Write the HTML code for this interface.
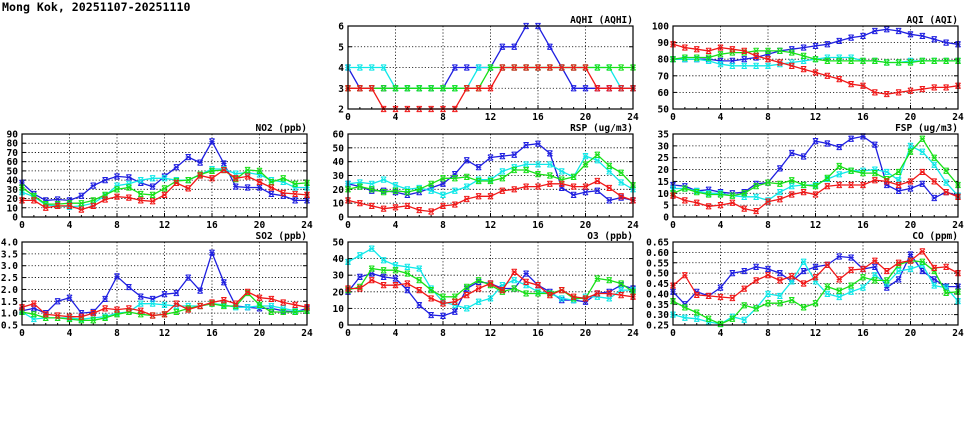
<!DOCTYPE html>
<html><head><meta charset="utf-8"><style>
body{margin:0;background:#fff;}
svg{display:block;font-family:"DejaVu Sans Mono","Liberation Mono",monospace;}
</style></head><body>
<svg id="s" width="975" height="447" viewBox="0 0 975 447" xmlns="http://www.w3.org/2000/svg">
<text x="2" y="11" font-size="11.6" font-weight="bold" fill="#000">Mong Kok, 20251107-20251110</text>
</svg>
<script>
const C={b:"#1f1fe0",c:"#10e8e8",g:"#18e018",r:"#f01818"};
const P=[
{t:"AQHI (AQHI)",x:348,y:26,min:2,max:6,st:1,dec:0,d:{
b:[4,3,3,3,3,3,3,3,3,4,4,4,4,5,5,6,6,5,4,3,3,3,3,3,3],
c:[4,4,4,4,3,3,3,3,3,3,3,4,4,4,4,4,4,4,4,4,4,4,4,3,3],
g:[3,3,3,3,3,3,3,3,3,3,3,3,4,4,4,4,4,4,4,4,4,4,4,4,4],
r:[3,3,3,2,2,2,2,2,2,2,3,3,3,4,4,4,4,4,4,4,4,3,3,3,3]}},
{t:"AQI (AQI)",x:673,y:26,min:50,max:100,st:10,dec:0,d:{
b:[80,80,80,80,79,79,80,81,83,85,86,87,88,89,91,93,94,97,98,97,95,94,92,90,89],
c:[80,80,80,79,77,76,76,76,76,77,78,79,80,81,81,81,79,79,78,78,79,79,79,79,79],
g:[80,81,81,81,83,84,84,85,85,85,84,82,80,79,79,79,79,79,78,78,78,79,79,79,79],
r:[89,87,86,85,87,86,85,82,80,78,76,74,72,70,68,65,64,60,59,60,61,62,63,63,64]}},
{t:"NO2 (ppb)",x:22,y:134,min:0,max:90,st:10,dec:0,d:{
b:[37,25,18,19,18,23,34,40,44,43,37,33,44,54,65,59,82,58,33,32,32,25,23,18,18],
c:[27,22,13,12,11,12,15,23,34,36,40,42,42,40,40,46,52,52,47,48,46,40,38,32,32],
g:[32,23,14,14,15,15,18,24,30,32,25,24,31,39,40,46,50,51,41,51,50,38,42,36,37],
r:[18,18,10,12,12,8,12,19,22,21,18,17,24,37,31,45,42,51,42,44,38,32,26,25,24]}},
{t:"RSP (ug/m3)",x:348,y:134,min:0,max:60,st:10,dec:0,d:{
b:[24,22,19,19,18,16,18,21,24,31,41,36,43,44,45,52,53,46,21,16,18,19,12,14,12],
c:[24,25,24,27,23,20,21,19,16,19,22,27,27,33,36,38,38,38,33,29,44,41,33,25,20],
g:[20,22,20,18,19,18,20,24,28,28,29,26,26,28,34,34,31,30,27,29,38,45,37,32,23],
r:[12,10,8,6,7,8,5,4,8,9,13,15,15,19,20,22,22,24,24,22,22,26,21,15,12]}},
{t:"FSP (ug/m3)",x:673,y:134,min:0,max:35,st:5,dec:0,d:{
b:[13.5,13,11,11.5,10.5,10,10.5,14,14.5,20.5,27,25.5,32,31,29.5,33,34,30.5,13.5,11,12,14,8,10.5,9],
c:[12,12,11,10,10,9,8.5,8.5,7,10.5,13,13.5,13.5,16,18,19.5,19.5,20,19,15.5,30,27.5,22,14.5,9],
g:[10,12,10.5,9.5,9.5,9,10,13,14.5,14,15.5,13.5,13,16.5,21.5,19.5,18.5,18.5,16,19,27.5,33,25,19.5,13.5],
r:[9,7,6,4.5,5,6,3.5,2.5,6.5,7.5,9.5,10.5,9.5,13,13.5,13.5,13.5,15.5,15,13.5,15,19,15,10.5,8.5]}},
{t:"SO2 (ppb)",x:22,y:242,min:0.5,max:4.0,st:0.5,dec:1,d:{
b:[1.1,1.2,1.0,1.5,1.65,1.0,1.05,1.6,2.55,2.1,1.7,1.6,1.8,1.85,2.5,1.95,3.55,2.3,1.3,1.25,1.2,1.2,1.1,1.05,1.2],
c:[1.05,0.75,0.8,0.8,0.8,0.75,0.8,0.85,1.0,1.05,1.4,1.4,1.35,1.3,1.3,1.3,1.4,1.35,1.25,1.25,1.3,1.3,1.2,1.1,1.1],
g:[1.05,0.95,0.8,0.8,0.75,0.7,0.7,0.8,0.95,1.05,0.95,0.9,0.95,1.05,1.2,1.3,1.4,1.3,1.3,1.85,1.35,1.05,1.05,1.05,1.1],
r:[1.25,1.4,0.95,0.9,0.85,0.85,1.0,1.2,1.15,1.2,1.1,0.9,0.95,1.4,1.15,1.3,1.45,1.55,1.4,1.9,1.65,1.6,1.45,1.35,1.25]}},
{t:"O3 (ppb)",x:348,y:242,min:0,max:50,st:10,dec:0,d:{
b:[20,29,31,29,28,21,12,6,5.5,8,22,26,25,22,22,31,24,20,15,15,14,19,20,24,22],
c:[38,42,46,39,36,35,34,22,14,12,10,14,16,24,27,24,20,19,16,15,17,17,16,21,21],
g:[21,23,34,33,33,31,27,21,17,17,23,27,24,20,22,19,19,19,21,16,16,28,27,25,20],
r:[22,22,27,24,24,25,21,16,13,14,18,22,25,21,32,26,24,18,21,17,16,19,19,18,17]}},
{t:"CO (ppm)",x:673,y:242,min:0.25,max:0.65,st:0.05,dec:2,d:{
b:[0.41,0.35,0.41,0.39,0.43,0.50,0.51,0.53,0.52,0.50,0.46,0.51,0.53,0.54,0.58,0.575,0.52,0.53,0.43,0.47,0.59,0.51,0.47,0.435,0.435],
c:[0.30,0.285,0.28,0.265,0.255,0.29,0.275,0.33,0.40,0.39,0.46,0.555,0.46,0.40,0.385,0.41,0.43,0.49,0.45,0.51,0.52,0.54,0.44,0.43,0.365],
g:[0.365,0.335,0.31,0.28,0.255,0.28,0.345,0.33,0.355,0.355,0.37,0.335,0.355,0.435,0.415,0.44,0.48,0.465,0.465,0.54,0.56,0.555,0.51,0.405,0.41],
r:[0.44,0.49,0.395,0.39,0.385,0.38,0.425,0.465,0.49,0.465,0.485,0.45,0.48,0.54,0.47,0.515,0.52,0.56,0.51,0.55,0.56,0.605,0.525,0.53,0.50]}}
];
const W=285,H=83;let o="";
for(const p of P){
 const X=h=>p.x+h/24*W, Y=v=>p.y+H-(v-p.min)/(p.max-p.min)*H;
 const n=Math.round((p.max-p.min)/p.st);
 for(let i=0;i<=n;i++){const v=p.min+i*p.st,y=Y(v);
  if(i>0&&i<n)o+=`<line x1="${p.x}" x2="${p.x+W}" y1="${y}" y2="${y}" stroke="#000" stroke-width="0.8" stroke-dasharray="1.2,2"/>`;
  o+=`<line x1="${p.x}" x2="${p.x+4}" y1="${y}" y2="${y}" stroke="#000"/><line x1="${p.x+W-4}" x2="${p.x+W}" y1="${y}" y2="${y}" stroke="#000"/>`;
  o+=`<text x="${p.x-4}" y="${y+3.5}" font-size="9.5" font-weight="bold" text-anchor="end">${v.toFixed(p.dec)}</text>`;}
 for(let h=0;h<=24;h+=4){const x=X(h);
  if(h>0&&h<24)o+=`<line x1="${x}" x2="${x}" y1="${p.y}" y2="${p.y+H}" stroke="#000" stroke-width="0.8" stroke-dasharray="1.2,2"/>`;
  o+=`<text x="${x}" y="${p.y+H+11}" font-size="9.5" font-weight="bold" text-anchor="middle">${h}</text>`;}
 for(let h=1;h<24;h++){const x=X(h);o+=`<line x1="${x}" x2="${x}" y1="${p.y+H}" y2="${p.y+H-(h%4?2:4)}" stroke="#000"/>`;}
 o+=`<text x="${p.x+W}" y="${p.y-3}" font-size="9.5" font-weight="bold" text-anchor="end">${p.t}</text>`;
 for(const k of ["b","c","g","r"]){const d=p.d[k];
  o+=`<polyline fill="none" stroke="${C[k]}" stroke-width="1.3" points="${d.map((v,i)=>X(i).toFixed(1)+","+Y(v).toFixed(1)).join(" ")}"/>`;
  for(let i=0;i<d.length;i++){const x=X(i),y=Y(d[i]),s=2.6;
   o+=`<path d="M${x-s} ${y-s}L${x+s} ${y+s}M${x+s} ${y-s}L${x-s} ${y+s}M${x-s} ${y}H${x+s}M${x-s} ${y-s}H${x+s}M${x-s} ${y+s}H${x+s}" stroke="${C[k]}" stroke-width="1" fill="none"/>`;}}
 o+=`<rect x="${p.x}" y="${p.y}" width="${W}" height="${H}" fill="none" stroke="#000" stroke-width="1.2"/>`;
}
document.getElementById("s").insertAdjacentHTML("beforeend",o);
</script>
</body></html>
